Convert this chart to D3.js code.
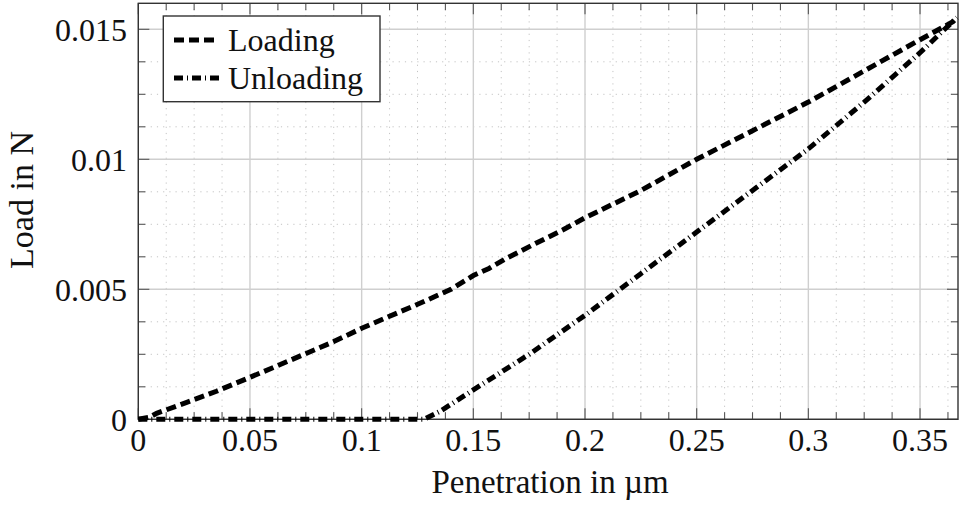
<!DOCTYPE html>
<html><head>
<meta charset="utf-8">
<title>Load vs penetration</title>
<script src="https://d3js.org/d3.v7.min.js"></script>
<style>
  body { margin: 0; background: #fff; }
  svg text { font-family: "Liberation Serif", "DejaVu Serif", serif; fill: #111; }
  .gridMajor line { stroke: #cfcfcf; stroke-width: 1.4; }
  .gridMinor line { stroke: #c4c4c4; stroke-width: 1; stroke-dasharray: 1.2, 5; }
  .ticks line { stroke: #555; stroke-width: 1.1; }
</style>
</head>
<body>
<svg id="chart" width="961" height="505"></svg>
<script>
// data
const loadingX = [0, 0.005, 0.0082, 0.0217, 0.035, 0.0485, 0.062, 0.0873, 0.1, 0.1276, 0.14, 0.15, 0.157, 0.165, 0.178, 0.19, 0.2, 0.225, 0.25, 0.275, 0.3, 0.325, 0.35, 0.3647, 0.3665];
const loadingY = [0, 0.00008, 0.00023, 0.00065, 0.00108, 0.00156, 0.00205, 0.00298, 0.0035, 0.00452, 0.005, 0.00553, 0.0058, 0.0062, 0.00677, 0.00728, 0.00775, 0.0088, 0.01, 0.0111, 0.0122, 0.0134, 0.0146, 0.01529, 0.01545];

const unloadingX = [0, 0.128, 0.135, 0.15, 0.175, 0.2, 0.225, 0.25, 0.275, 0.3, 0.325, 0.35, 0.3665];
const unloadingY = [0, 0, 0.0003, 0.00113, 0.0025, 0.004, 0.0056, 0.0072, 0.0088, 0.0104, 0.0122, 0.0141, 0.01545];

const xTicks = [0, 0.05, 0.1, 0.15, 0.2, 0.25, 0.3, 0.35];
const xTickLabels = ["0", "0.05", "0.1", "0.15", "0.2", "0.25", "0.3", "0.35"];
const yTicks = [0, 0.005, 0.01, 0.015];
const yTickLabels = ["0", "0.005", "0.01", "0.015"];
const seriesNames = ["Loading", "Unloading"];

const svg = d3.select("#chart");
const plotLeft = 138.3, plotRight = 958, plotTop = 3.3, plotBottom = 419.3;

const xScale = d3.scaleLinear().domain([0, 0.367]).range([plotLeft, plotRight]);
const yScale = d3.scaleLinear().domain([0, 0.016]).range([plotBottom, plotTop]);

// minor ticks: 3 between each pair of majors
const xMinor = d3.range(0, 0.367, 0.0125).filter(v => Math.abs(v / 0.05 - Math.round(v / 0.05)) > 1e-6);
const yMinor = d3.range(0, 0.016, 0.00125).filter(v => Math.abs(v / 0.005 - Math.round(v / 0.005)) > 1e-6);

// gridlines
const gMinor = svg.append("g").attr("class", "gridMinor");
gMinor.selectAll("line.v").data(xMinor).join("line").attr("class", "v")
  .attr("x1", d => xScale(d)).attr("x2", d => xScale(d))
  .attr("y1", plotBottom).attr("y2", plotTop);
gMinor.selectAll("line.h").data(yMinor).join("line").attr("class", "h")
  .attr("x1", plotLeft).attr("x2", plotRight)
  .attr("y1", d => yScale(d)).attr("y2", d => yScale(d));

const gMajor = svg.append("g").attr("class", "gridMajor");
gMajor.selectAll("line.v").data(xTicks).join("line").attr("class", "v")
  .attr("x1", d => xScale(d)).attr("x2", d => xScale(d))
  .attr("y1", plotBottom).attr("y2", plotTop);
gMajor.selectAll("line.h").data(yTicks).join("line").attr("class", "h")
  .attr("x1", plotLeft).attr("x2", plotRight)
  .attr("y1", d => yScale(d)).attr("y2", d => yScale(d));

// inward ticks on all four sides
const ticks = svg.append("g").attr("class", "ticks");
function xTickMarks(vals, len) {
  vals.forEach(v => {
    ticks.append("line").attr("x1", xScale(v)).attr("x2", xScale(v)).attr("y1", plotBottom).attr("y2", plotBottom - len);
    ticks.append("line").attr("x1", xScale(v)).attr("x2", xScale(v)).attr("y1", plotTop).attr("y2", plotTop + len);
  });
}
function yTickMarks(vals, len) {
  vals.forEach(v => {
    ticks.append("line").attr("y1", yScale(v)).attr("y2", yScale(v)).attr("x1", plotLeft).attr("x2", plotLeft + len);
    ticks.append("line").attr("y1", yScale(v)).attr("y2", yScale(v)).attr("x1", plotRight).attr("x2", plotRight - len);
  });
}
xTickMarks(xTicks, 11); xTickMarks(xMinor, 7);
yTickMarks(yTicks, 11); yTickMarks(yMinor, 7);

// frame
svg.append("rect")
  .attr("x", plotLeft).attr("y", plotTop)
  .attr("width", plotRight - plotLeft).attr("height", plotBottom - plotTop)
  .attr("fill", "none").attr("stroke", "#333").attr("stroke-width", 1.4);

// tick labels
svg.append("g").selectAll("text").data(xTicks).join("text")
  .attr("x", d => xScale(d)).attr("y", 451)
  .attr("text-anchor", "middle").attr("font-size", 32)
  .text((d, i) => xTickLabels[i]);
svg.append("g").selectAll("text").data(yTicks).join("text")
  .attr("x", 127).attr("y", d => yScale(d) + 11.5)
  .attr("text-anchor", "end").attr("font-size", 32)
  .text((d, i) => yTickLabels[i]);

// axis titles
svg.append("text").attr("x", 550).attr("y", 493)
  .attr("text-anchor", "middle").attr("font-size", 33)
  .text("Penetration in µm");
svg.append("text")
  .attr("transform", "translate(33," + 200 + ") rotate(-90)")
  .attr("text-anchor", "middle").attr("font-size", 34)
  .text("Load in N");

// the two curves
const line = d3.line().x(d => xScale(d[0])).y(d => yScale(d[1]));
const styles = [
  {dash: "10,5"},
  {dash: "9,4,1,4"}
];
const series = [
  d3.zip(loadingX, loadingY),
  d3.zip(unloadingX, unloadingY)
];
series.forEach((pts, i) => {
  svg.append("path").datum(pts)
    .attr("d", line)
    .attr("fill", "none").attr("stroke", "#000")
    .attr("stroke-width", 5)
    .attr("stroke-dasharray", styles[i].dash);
});

// legend
const legend = svg.append("g");
legend.append("rect")
  .attr("x", 163.3).attr("y", 16).attr("width", 216.7).attr("height", 85.7)
  .attr("fill", "#fff").attr("stroke", "#333").attr("stroke-width", 1.4);
seriesNames.forEach((name, i) => {
  const cy = 40 + i * 38;
  legend.append("line")
    .attr("x1", 174).attr("x2", i === 0 ? 214 : 220)
    .attr("y1", cy).attr("y2", cy)
    .attr("stroke", "#000").attr("stroke-width", 5)
    .attr("stroke-dasharray", styles[i].dash);
  legend.append("text")
    .attr("x", 228).attr("y", cy + 11)
    .attr("font-size", 32)
    .text(name);
});
</script>
</body>
</html>
